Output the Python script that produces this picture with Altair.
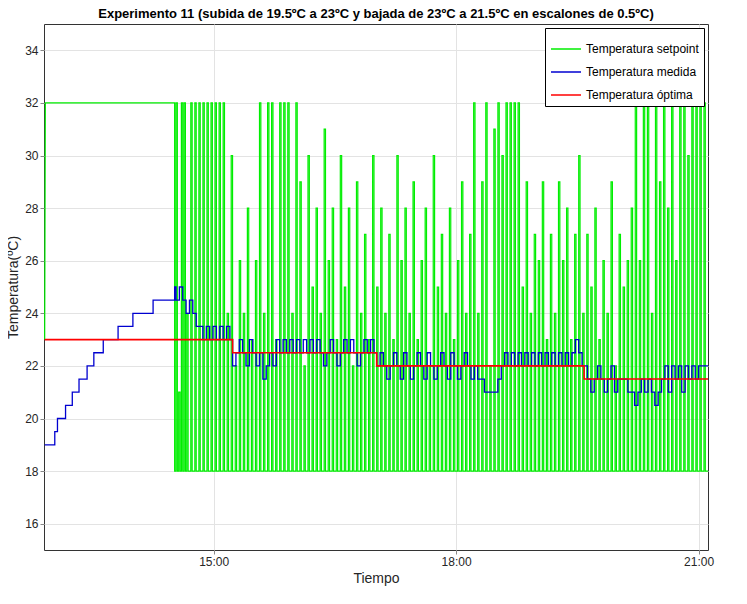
import pandas as pd
import altair as alt

# tiempo en minutos desde las 12:00
sp_start = [54.5, 55, 151]          # subida inicial a 32
sp_start_vals = [23, 32, 32]
# pulsos del setpoint (inicio, altura), cada pulso dura ~1 min y vuelve a 18
pulse_t = [152, 154, 156, 158, 160, 163, 166, 169, 172, 175, 178, 181, 184, 187,
           190, 193, 196, 199, 202, 205, 208, 211,
           214, 217, 220, 223, 226, 229, 232, 235, 238, 241,
           244, 247, 250, 253, 256, 259, 262, 265, 268, 271, 274, 277, 280, 283,
           286, 289, 292, 295, 298, 301, 304, 307, 310, 313, 316, 319, 322, 325,
           328, 331, 334, 337, 340, 343, 346, 349, 352, 355, 358, 361, 364, 367, 370,
           373, 376, 379, 382, 385, 388, 391, 394, 397, 400, 403, 406,
           409, 412, 415, 418, 421, 424, 427, 430, 433, 436, 439, 442, 445, 448,
           451, 454, 457, 460, 463, 466, 469, 472, 475, 478, 481, 484, 487, 490,
           493, 496, 499, 502, 505, 508, 511, 514, 517, 520, 523, 526, 529, 532,
           535, 538, 541, 544]
pulse_h = [32, 21, 32, 32, 24, 32, 32, 32, 32, 32, 32, 32, 32, 32,
           24, 30, 22, 26, 24, 28, 23, 26,
           32, 24, 32, 32, 23, 32, 32, 32, 24, 32,
           29, 22, 30, 25, 28, 24, 31, 26, 28, 23, 30, 25, 28, 22,
           29, 24, 27, 23, 30, 25, 28, 24, 27, 23, 30, 26, 28, 24,
           29, 23, 26, 28, 22, 30, 25, 27, 24, 28, 23, 26, 29, 24, 27,
           32, 24, 29, 32, 22, 31, 32, 30, 32, 32, 32, 32,
           25, 29, 24, 27, 26, 29, 23, 27, 24, 29, 26, 28, 23, 27,
           30, 24, 27, 25, 28, 23, 26, 24, 29, 22, 27, 25, 26, 28,
           32, 26, 32, 32, 24, 32, 29, 32, 28, 32, 26, 32, 32, 30,
           32, 32, 32, 32]

# temperatura medida (escalones)
med_t = [54.5, 62, 64, 70, 75, 80, 86, 91, 98, 109, 120, 135, 151]
med_v = [19, 19.5, 20, 20.5, 21, 21.5, 22, 22.5, 23, 23.5, 24, 24.5, 25]
osc_start = [152, 194, 301, 455]
osc_vals = [
    [24.5, 25, 24.5, 24, 24.5, 24, 23.5, 23.5, 23, 23.5, 23, 23.5, 23, 23.5, 23, 23.5, 23],
    [22, 22.5, 23, 22.5, 22, 23, 22.5, 22, 22.5, 21.5, 22, 22.5, 22, 23, 22.5, 23, 22.5,
     23, 22.5, 23, 22.5, 23, 22.5, 23, 22.5, 23, 22.5, 22, 22.5, 23, 22.5, 22, 22.5, 23,
     22.5, 23, 22.5, 22, 22.5, 23, 22.5, 23, 22.5],
    [22, 22.5, 22, 21.5, 22, 22.5, 22, 21.5, 22.5, 22, 21.5, 22, 22.5, 22, 21.5, 22.5,
     22, 21.5, 22, 22.5, 22, 21.5, 22.5, 22, 21.5, 22, 22.5, 22, 21.5, 22, 21.5, 21.5,
     21, 21, 21, 21, 21.5, 22, 22.5, 22, 22.5, 22, 22.5, 22, 22.5, 22, 22.5, 22, 22.5,
     22, 22.5, 22, 22.5, 22, 22.5, 22, 22.5, 22, 22.5, 23, 22.5, 22],
    [22, 21.5, 21, 21.5, 22, 21.5, 21, 21.5, 22, 21, 21.5, 21.5, 21.5, 21, 21, 20.5,
     21, 21.5, 21, 21.5, 21, 20.5, 21, 21.5, 22, 21, 22, 21.5, 22, 21, 22, 21.5, 22,
     21.5, 22, 22, 22]
]
opt_t = [54.5, 194, 194, 301, 301, 455, 455, 547]
opt_v = [23, 23, 22.5, 22.5, 22, 22, 21.5, 21.5]

series = ["Temperatura setpoint", "Temperatura medida", "Temperatura óptima"]

sp_rows = [(t, v) for t, v in zip(sp_start, sp_start_vals)] + [(151, 18)]
for t, h in zip(pulse_t, pulse_h):
    sp_rows += [(t, 18), (t, h), (t + 1, h), (t + 1, 18)]
sp_rows.append((547, 18))
sp = pd.DataFrame(sp_rows, columns=["t", "v"])
sp["s"] = series[0]
sp["i"] = range(len(sp))

med_steps = list(zip(med_t, med_v))
for t0, vals in zip(osc_start, osc_vals):
    for k, v in enumerate(vals):
        med_steps.append((t0 + k * 2.5, v))
med_steps.append((547, med_steps[-1][1]))
med_rows = []
for k, (t, v) in enumerate(med_steps):
    if k > 0:
        med_rows.append((t, med_steps[k - 1][1]))
    med_rows.append((t, v))
med = pd.DataFrame(med_rows, columns=["t", "v"])
med["s"] = series[1]
med["i"] = range(len(med))

opt = pd.DataFrame({"t": opt_t, "v": opt_v, "s": series[2]})
opt["i"] = range(len(opt))

color = alt.Color("s:N", title=None,
                  scale=alt.Scale(domain=series, range=["#00ee00", "#0000d0", "#ff0000"]),
                  legend=alt.Legend(orient="top-right", symbolType="stroke", symbolSize=900,
                                    symbolStrokeWidth=1.5, strokeColor="black", fillColor="white",
                                    padding=5, labelFontSize=12, labelFont="Arial",
                                    offset=4, rowPadding=1))
x = alt.X("t:Q", title="Tiempo", scale=alt.Scale(domain=[54, 547], nice=False),
          axis=alt.Axis(values=[180, 360, 540], labelExpr="['15:00','18:00','21:00'][round(datum.value/180)-1]",
                        grid=True, gridColor="#e3e3e3", tickSize=4, labelFontSize=12,
                        titleFontSize=14, titleFontWeight="normal", domain=False))
y = alt.Y("v:Q", title="Temperatura(ºC)", scale=alt.Scale(domain=[15, 35], nice=False),
          axis=alt.Axis(values=list(range(16, 35, 2)), grid=True, gridColor="#e3e3e3", tickSize=4,
                        labelFontSize=12, titleFontSize=14, titleFontWeight="normal", domain=False))

base_enc = dict(x=x, y=y, color=color, order="i:Q")
l1 = alt.Chart(sp).mark_line(strokeWidth=1.2).encode(**base_enc)
l2 = alt.Chart(med).mark_line(strokeWidth=1.3).encode(**base_enc)
l3 = alt.Chart(opt).mark_line(strokeWidth=1.6).encode(**base_enc)

chart = alt.layer(l1, l2, l3).properties(
    width=664, height=526,
    title=alt.TitleParams("Experimento 11 (subida de 19.5ºC a 23ºC y bajada de 23ºC a 21.5ºC en escalones de 0.5ºC)",
                          fontSize=13, fontWeight="bold", font="Arial", offset=3),
    padding={"left": 36, "top": 16, "right": 20, "bottom": 44},
    autosize="none"
).configure_view(stroke="#333333", strokeWidth=1).configure_axis(
    labelFont="Arial", titleFont="Arial", labelColor="#262626", titleColor="#262626"
)

chart.save("out.html", embed_options={"renderer": "svg", "actions": False})
